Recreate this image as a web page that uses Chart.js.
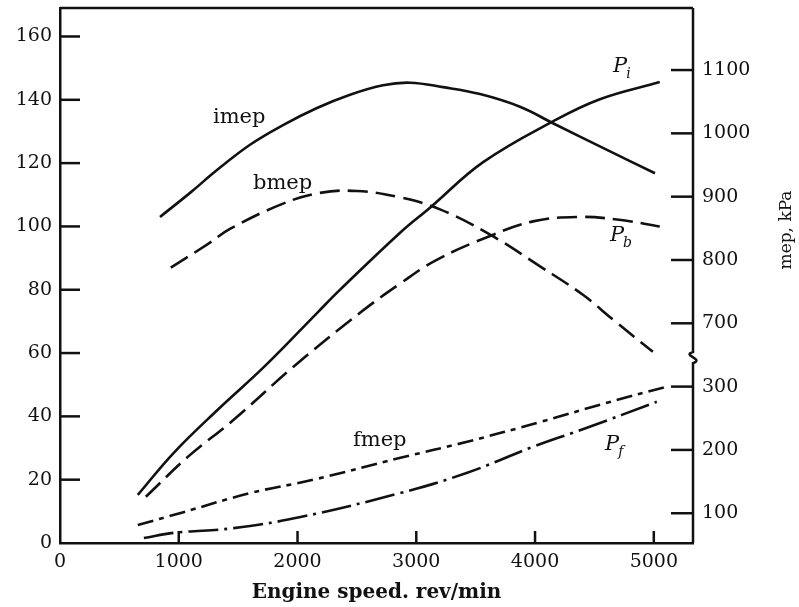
<!DOCTYPE html>
<html><head><meta charset="utf-8">
<script src="https://cdn.jsdelivr.net/npm/chart.js@4.4.0/dist/chart.umd.min.js"></script>
<style>html,body{margin:0;padding:0;background:#fff;}canvas{display:block;}</style>
</head><body>
<canvas id="c" width="799" height="607"></canvas>
<script>
// ---- data ----
const imepRpm = [842,1095,1322,1600,1878,2164,2442,2720,2947,3225,3537,3873,4151,4606,5010];
const imepKPa = [868,906,942,982,1013,1040,1061,1076,1080,1073,1062,1042,1016,974,937];

const bmepRpm = [933,1244,1431,1878,2189,2501,2863,3200,3622,4042,4403,4655,4992];
const bmepKPa = [788,825,849,889,906,909,899,880,840,790,745,706,655];

const fmepRpm = [655,1017,1605,2134,2866,3429,4042,4605,5109];
const fmepKPa = [81.5,100.5,132,153,187.5,213,244,274.5,300];

const piRpm = [655,958,1328,1720,2168,2361,2866,3118,3563,4151,4546,5050];
const piKW  = [15.2,28.5,42.1,55.7,72.8,80.1,98.1,106,120.3,133.2,140.2,145.6];

const pbRpm = [723,1076,1462,1966,2529,2866,3176,3622,3983,4350,4689,5050];
const pbKW  = [14.6,27.2,38.9,55.7,72.8,82,89.5,97,101.6,103,102.2,100];

const pfRpm = [706,958,1462,2025,2866,3429,3983,4437,5025];
const pfKW  = [1.6,3.2,4.7,8.2,15.8,22.2,30.4,36.4,44.6];

const xTicks = [0,1000,2000,3000,4000,5000];
const powerTicks = [0,20,40,60,80,100,120,140,160];
const mepTicksLow = [100,200,300];
const mepTicksHigh = [700,800,900,1000,1100];

// ---- axis geometry (broken mep axis) ----
const X_MAX = 5330;
const POWER_MAX = 169;
const KPA_PER_UNIT = 5;
const HI_MIN = 353, LO_MIN = 53;
const HI_MAX = HI_MIN + POWER_MAX * KPA_PER_UNIT;
const LO_MAX = LO_MIN + POWER_MAX * KPA_PER_UNIT;
const OFFSET = HI_MIN - LO_MIN;
const BREAK_HI = 645;

const FONT = 'DejaVu Serif';
const INK = '#111';

const pts = (xs, ys) => xs.map((x, i) => ({x, y: ys[i]}));
const ds = (data, axis, dash) => ({
  data, yAxisID: axis, borderColor: INK, borderWidth: 2.6, borderDash: dash,
  pointRadius: 0, fill: false, tension: 0.4, borderCapStyle: 'butt'
});

const curveLabels = [
  {text: 'imep', rpm: 1288, p: 134.3},
  {text: 'bmep', rpm: 1625, p: 113.7},
  {text: 'fmep', rpm: 2467, p: 32.5},
  {text: 'P', sub: 'i', rpm: 4657, p: 150.4},
  {text: 'P', sub: 'b', rpm: 4631, p: 97},
  {text: 'P', sub: 'f', rpm: 4589, p: 31}
];

const noPad = s => { s.paddingTop = 0; s.paddingBottom = 0; s.paddingLeft = 0; s.paddingRight = 0; };

const overlay = {
  id: 'overlay',
  afterDraw(chart) {
    const ctx = chart.ctx, a = chart.chartArea;
    const sx = chart.scales.x, sy = chart.scales.y, sh = chart.scales.yHi;
    ctx.save();
    ctx.strokeStyle = INK; ctx.lineWidth = 2.5; ctx.setLineDash([]);
    // top frame
    ctx.beginPath(); ctx.moveTo(a.left, a.top); ctx.lineTo(a.right, a.top); ctx.stroke();
    // right axis with break
    const yb = sh.getPixelForValue(BREAK_HI);
    ctx.beginPath();
    ctx.moveTo(a.right, a.top);
    ctx.lineTo(a.right, yb - 6);
    ctx.bezierCurveTo(a.right - 12, yb - 3, a.right + 12, yb + 1, a.right, yb + 5);
    ctx.lineTo(a.right, a.bottom);
    ctx.stroke();
    // inward ticks
    sx.ticks.forEach(t => {
      if (t.value === 0) return;
      const px = sx.getPixelForValue(t.value);
      ctx.beginPath(); ctx.moveTo(px, a.bottom); ctx.lineTo(px, a.bottom - 12); ctx.stroke();
    });
    sy.ticks.forEach(t => {
      if (t.value === 0) return;
      const py = sy.getPixelForValue(t.value);
      ctx.beginPath(); ctx.moveTo(a.left, py); ctx.lineTo(a.left + 20, py); ctx.stroke();
    });
    sh.ticks.forEach(t => {
      const py = sh.getPixelForValue(t.value);
      ctx.beginPath(); ctx.moveTo(a.right, py); ctx.lineTo(a.right - 22, py); ctx.stroke();
    });
    // curve labels
    ctx.fillStyle = INK; ctx.textBaseline = 'middle'; ctx.textAlign = 'left';
    curveLabels.forEach(l => {
      const px = sx.getPixelForValue(l.rpm), py = sy.getPixelForValue(l.p);
      if (l.sub) {
        ctx.font = 'italic 21px "' + FONT + '"';
        ctx.fillText(l.text, px, py);
        const w = ctx.measureText(l.text).width;
        ctx.font = 'italic 14px "' + FONT + '"';
        ctx.fillText(l.sub, px + w - 1, py + 7);
      } else {
        ctx.font = '21px "' + FONT + '"';
        ctx.fillText(l.text, px, py);
      }
    });
    // axis titles
    ctx.font = 'bold 20px "' + FONT + '"';
    ctx.textAlign = 'center';
    ctx.fillText('Engine speed. rev/min', (a.left + a.right) / 2, 593);
    ctx.save();
    ctx.translate(787, 230); ctx.rotate(-Math.PI / 2);
    ctx.font = '17px "' + FONT + '"';
    ctx.fillText('mep, kPa', 0, 0);
    ctx.restore();
    ctx.restore();
  }
};

const tickFont = {family: FONT, size: 19};
new Chart(document.getElementById('c'), {
  type: 'line',
  data: {
    datasets: [
      ds(pts(imepRpm, imepKPa), 'yHi', []),
      ds(pts(bmepRpm, bmepKPa), 'yHi', [20, 8]),
      ds(pts(fmepRpm, fmepKPa), 'yLo', [16, 6, 5, 6]),
      ds(pts(piRpm, piKW), 'y', []),
      ds(pts(pbRpm, pbKW), 'y', [20, 8]),
      ds(pts(pfRpm, pfKW), 'y', [30, 6, 3, 6])
    ]
  },
  options: {
    responsive: false, animation: false, devicePixelRatio: 1, events: [],
    layout: {padding: {top: 8, left: 0, right: 0, bottom: 0}},
    plugins: {legend: {display: false}, tooltip: {enabled: false}},
    scales: {
      x: {
        type: 'linear', position: 'bottom', min: 0, max: X_MAX,
        afterBuildTicks: s => { s.ticks = xTicks.map(v => ({value: v})); },
        afterFit: s => { s.height = 64; noPad(s); },
        grid: {drawOnChartArea: false, drawTicks: false},
        border: {display: true, color: INK, width: 2.5},
        ticks: {color: INK, font: tickFont, padding: 8, maxRotation: 0, autoSkip: false,
          callback: v => String(v)}
      },
      y: {
        type: 'linear', position: 'left', min: 0, max: POWER_MAX,
        afterBuildTicks: s => { s.ticks = powerTicks.map(v => ({value: v})); },
        afterFit: s => { s.width = 60; noPad(s); },
        grid: {drawOnChartArea: false, drawTicks: false},
        border: {display: true, color: INK, width: 2.5},
        ticks: {color: INK, font: tickFont, padding: 8, autoSkip: false, callback: v => String(v)}
      },
      yHi: {
        type: 'linear', position: 'right', min: HI_MIN, max: HI_MAX,
        afterBuildTicks: s => {
          s.ticks = mepTicksLow.map(v => ({value: v + OFFSET})).concat(mepTicksHigh.map(v => ({value: v})));
        },
        afterFit: s => { s.width = 106; noPad(s); },
        grid: {drawOnChartArea: false, drawTicks: false},
        border: {display: false},
        ticks: {color: INK, font: tickFont, padding: 9, autoSkip: false,
          callback: v => String(v < BREAK_HI ? v - OFFSET : v)}
      },
      yLo: {
        type: 'linear', display: false, min: LO_MIN, max: LO_MAX
      }
    }
  },
  plugins: [overlay]
});
</script>
</body></html>
